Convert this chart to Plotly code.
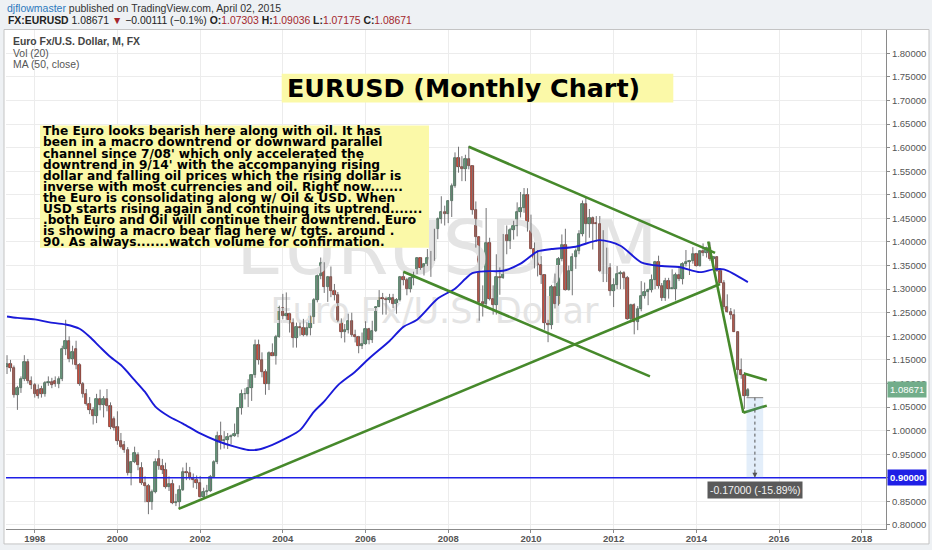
import pandas as pd
import plotly.graph_objects as go

# ---------------- data (monthly EURUSD, May 1997 - Apr 2015) ----------------
first_month = "1997-05-01"

open_ = [
    1.1350, 1.1420, 1.1330, 1.0760, 1.0900, 1.1100, 1.1450, 1.1050,
    1.0960, 1.0860, 1.0880, 1.0780, 1.1000, 1.1040, 1.1050, 1.0980, 1.1100, 1.1730, 1.1900, 1.1520,
    1.1740, 1.1390, 1.0990, 1.0770, 1.0570, 1.0430, 1.0320, 1.0680, 1.0550, 1.0680, 1.0520, 1.0240,
    1.0070, 0.9780, 0.9700, 0.9580, 0.9110, 0.9330, 0.9480, 0.9200, 0.8880, 0.8830, 0.8480, 0.8690,
    0.9400, 0.9250, 0.9170, 0.8800, 0.8870, 0.8460, 0.8480, 0.8750, 0.9120, 0.9110, 0.9000, 0.8950,
    0.8900, 0.8600, 0.8700, 0.8720, 0.9020, 0.9330, 0.9880, 0.9770, 0.9810, 0.9860, 0.9880, 0.9930,
    1.0480, 1.0770, 1.0780, 1.0910, 1.1170, 1.1810, 1.1500, 1.1250, 1.0980, 1.1650, 1.1590, 1.1990,
    1.2590, 1.2440, 1.2480, 1.2290, 1.1960, 1.2200, 1.2170, 1.2030, 1.2180, 1.2420, 1.2760, 1.3270,
    1.3560, 1.3040, 1.3250, 1.2960, 1.2870, 1.2300, 1.2100, 1.2130, 1.2330, 1.2020, 1.1990, 1.1790,
    1.1840, 1.2160, 1.1920, 1.2120, 1.2620, 1.2810, 1.2790, 1.2760, 1.2810, 1.2680, 1.2760, 1.3250,
    1.3200, 1.3010, 1.3230, 1.3360, 1.3650, 1.3450, 1.3540, 1.3670, 1.3640, 1.4270, 1.4490, 1.4630,
    1.4590, 1.4860, 1.5180, 1.5790, 1.5600, 1.5550, 1.5760, 1.5610, 1.4670, 1.4100, 1.2730, 1.2690,
    1.3970, 1.2800, 1.2670, 1.3250, 1.3230, 1.4150, 1.4030, 1.4250, 1.4330, 1.4640, 1.4720, 1.5000,
    1.4330, 1.3860, 1.3630, 1.3510, 1.3290, 1.2290, 1.2230, 1.3050, 1.2690, 1.3630, 1.3930, 1.2980,
    1.3380, 1.3690, 1.3800, 1.4160, 1.4810, 1.4390, 1.4500, 1.4390, 1.4380, 1.3390, 1.3870, 1.3450,
    1.2960, 1.3080, 1.3330, 1.3340, 1.3240, 1.2360, 1.2660, 1.2300, 1.2580, 1.2860, 1.2950, 1.2990,
    1.3190, 1.3580, 1.3060, 1.2820, 1.3170, 1.3000, 1.3010, 1.3300, 1.3220, 1.3530, 1.3580, 1.3590,
    1.3750, 1.3490, 1.3810, 1.3770, 1.3870, 1.3630, 1.3690, 1.3390, 1.3130, 1.2630, 1.2520, 1.2450,
    1.2100, 1.1290, 1.1190, 1.07303,
]
high = [
    1.1600, 1.1500, 1.1380, 1.0950, 1.1150, 1.1600, 1.1520, 1.1150,
    1.1010, 1.0980, 1.0950, 1.1050, 1.1150, 1.1120, 1.1150, 1.1150, 1.1800, 1.2350, 1.2000, 1.1800,
    1.1906, 1.1430, 1.1030, 1.0880, 1.0710, 1.0500, 1.0780, 1.0870, 1.0730, 1.0880, 1.0600, 1.0300,
    1.0410, 0.9950, 0.9780, 0.9650, 0.9350, 0.9660, 0.9540, 0.9330, 0.9030, 0.8870, 0.8750, 0.9410,
    0.9590, 0.9400, 0.9320, 0.9030, 0.8960, 0.8660, 0.8840, 0.9220, 0.9320, 0.9230, 0.9090, 0.9050,
    0.9040, 0.8790, 0.8850, 0.9060, 0.9370, 0.9980, 1.0190, 0.9990, 0.9950, 0.9920, 1.0150, 1.0500,
    1.0870, 1.0900, 1.1090, 1.1190, 1.1930, 1.1930, 1.1660, 1.1300, 1.1680, 1.1850, 1.2030, 1.2650,
    1.2900, 1.2930, 1.2500, 1.2380, 1.2290, 1.2290, 1.2370, 1.2300, 1.2440, 1.2810, 1.3310, 1.3670,
    1.3570, 1.3280, 1.3480, 1.3110, 1.2940, 1.2380, 1.2260, 1.2480, 1.2500, 1.2140, 1.2010, 1.2080,
    1.2320, 1.2180, 1.2330, 1.2640, 1.2980, 1.2920, 1.2840, 1.2900, 1.2900, 1.2810, 1.3280, 1.3370,
    1.3240, 1.3260, 1.3370, 1.3680, 1.3660, 1.3540, 1.3850, 1.3810, 1.4280, 1.4520, 1.4970, 1.4770,
    1.4890, 1.5240, 1.5900, 1.6020, 1.5820, 1.5850, 1.6038, 1.5630, 1.4860, 1.4100, 1.3080, 1.4720,
    1.4090, 1.3080, 1.3740, 1.3460, 1.4170, 1.4350, 1.4300, 1.4450, 1.4840, 1.5060, 1.5144, 1.5140,
    1.4580, 1.3990, 1.3830, 1.3700, 1.3320, 1.2350, 1.3090, 1.3330, 1.3680, 1.4160, 1.4280, 1.3500,
    1.3760, 1.3860, 1.4250, 1.4880, 1.4940, 1.4700, 1.4540, 1.4550, 1.4550, 1.4250, 1.3880, 1.3550,
    1.3230, 1.3490, 1.3390, 1.3380, 1.3280, 1.2690, 1.2700, 1.2640, 1.3170, 1.3140, 1.3010, 1.3310,
    1.3600, 1.3710, 1.3130, 1.3240, 1.3240, 1.3420, 1.3350, 1.3450, 1.3570, 1.3830, 1.3620, 1.3890,
    1.3770, 1.3820, 1.3970, 1.3900, 1.3995, 1.3700, 1.3700, 1.3440, 1.3190, 1.2890, 1.2600, 1.2570,
    1.2100, 1.1530, 1.1240, 1.09036,
]
low = [
    1.1200, 1.1250, 1.0700, 1.0440, 1.0800, 1.1050, 1.1000, 1.0880,
    1.0700, 1.0680, 1.0700, 1.0720, 1.0950, 1.0900, 1.0930, 1.0900, 1.1050, 1.1600, 1.1450, 1.1400,
    1.1300, 1.0950, 1.0700, 1.0530, 1.0350, 1.0130, 1.0160, 1.0430, 1.0280, 1.0410, 1.0030, 1.0000,
    0.9700, 0.9620, 0.9530, 0.9050, 0.8840, 0.9310, 0.9160, 0.8850, 0.8480, 0.8228, 0.8320, 0.8670,
    0.9170, 0.9080, 0.8770, 0.8720, 0.8440, 0.8400, 0.8344, 0.8720, 0.8950, 0.8950, 0.8790, 0.8760,
    0.8580, 0.8560, 0.8620, 0.8700, 0.9000, 0.9290, 0.9600, 0.9620, 0.9610, 0.9710, 0.9870, 0.9860,
    1.0340, 1.0660, 1.0500, 1.0630, 1.1120, 1.1400, 1.1130, 1.0760, 1.0860, 1.1580, 1.1400, 1.1970,
    1.2360, 1.2350, 1.2080, 1.1760, 1.1760, 1.2010, 1.2000, 1.2000, 1.2020, 1.2260, 1.2720, 1.3210,
    1.2920, 1.2730, 1.2830, 1.2760, 1.2300, 1.1960, 1.1870, 1.2060, 1.1990, 1.1870, 1.1640, 1.1730,
    1.1820, 1.1830, 1.1860, 1.2090, 1.2620, 1.2460, 1.2460, 1.2710, 1.2600, 1.2480, 1.2740, 1.3080,
    1.2870, 1.2930, 1.3080, 1.3320, 1.3410, 1.3290, 1.3490, 1.3260, 1.3600, 1.4060, 1.4390, 1.4350,
    1.4400, 1.4530, 1.5150, 1.5470, 1.5290, 1.5290, 1.5540, 1.4580, 1.3880, 1.2330, 1.2420, 1.2630,
    1.2760, 1.2460, 1.2460, 1.2880, 1.3220, 1.3740, 1.3850, 1.4050, 1.4120, 1.4520, 1.4620, 1.4220,
    1.3860, 1.3440, 1.3270, 1.3110, 1.2140, 1.1875, 1.2150, 1.2590, 1.2650, 1.3590, 1.2970, 1.2970,
    1.2870, 1.3430, 1.3740, 1.4120, 1.3970, 1.4090, 1.3840, 1.4000, 1.3360, 1.3150, 1.3150, 1.2860,
    1.2620, 1.3000, 1.3000, 1.3000, 1.2350, 1.2290, 1.2042, 1.2130, 1.2530, 1.2800, 1.2660, 1.2930,
    1.3000, 1.3010, 1.2750, 1.2750, 1.2800, 1.3000, 1.2760, 1.3170, 1.3100, 1.3480, 1.3300, 1.3540,
    1.3480, 1.3480, 1.3700, 1.3670, 1.3600, 1.3500, 1.3370, 1.3130, 1.2570, 1.2500, 1.2360, 1.2100,
    1.1100, 1.1100, 1.0460, 1.07175,
]
close = [
    1.1420, 1.1330, 1.0760, 1.0900, 1.1100, 1.1450, 1.1050, 1.0960,
    1.0780, 1.0740, 1.0780, 1.1000, 1.1040, 1.0970, 1.0980, 1.1100, 1.1730, 1.1900, 1.1520, 1.1670,
    1.1390, 1.0990, 1.0770, 1.0570, 1.0430, 1.0320, 1.0680, 1.0550, 1.0680, 1.0520, 1.0080, 1.0050,
    0.9780, 0.9660, 0.9580, 0.9110, 0.9330, 0.9530, 0.9270, 0.8880, 0.8830, 0.8480, 0.8690, 0.9330,
    0.9250, 0.9170, 0.8800, 0.8870, 0.8460, 0.8480, 0.8750, 0.9120, 0.9110, 0.9000, 0.8950, 0.8900,
    0.8600, 0.8700, 0.8720, 0.9020, 0.9330, 0.9880, 0.9770, 0.9810, 0.9860, 0.9880, 0.9930, 1.0480,
    1.0770, 1.0780, 1.0910, 1.1170, 1.1810, 1.1500, 1.1250, 1.0980, 1.1650, 1.1590, 1.1990, 1.2590,
    1.2440, 1.2480, 1.2290, 1.1960, 1.2200, 1.2170, 1.2030, 1.2180, 1.2420, 1.2760, 1.3270, 1.3560,
    1.3040, 1.3250, 1.2960, 1.2870, 1.2300, 1.2100, 1.2130, 1.2330, 1.2020, 1.1990, 1.1790, 1.1840,
    1.2160, 1.1920, 1.2120, 1.2620, 1.2810, 1.2790, 1.2760, 1.2810, 1.2680, 1.2760, 1.3250, 1.3200,
    1.3010, 1.3230, 1.3360, 1.3650, 1.3450, 1.3540, 1.3670, 1.3640, 1.4270, 1.4490, 1.4630, 1.4590,
    1.4860, 1.5180, 1.5790, 1.5600, 1.5550, 1.5760, 1.5610, 1.4670, 1.4100, 1.2730, 1.2690, 1.3970,
    1.2800, 1.2670, 1.3250, 1.3230, 1.4150, 1.4030, 1.4250, 1.4330, 1.4640, 1.4720, 1.5000, 1.4330,
    1.3860, 1.3630, 1.3510, 1.3290, 1.2290, 1.2230, 1.3050, 1.2690, 1.3630, 1.3930, 1.2980, 1.3380,
    1.3690, 1.3800, 1.4160, 1.4810, 1.4390, 1.4500, 1.4390, 1.4380, 1.3390, 1.3870, 1.3450, 1.2960,
    1.3080, 1.3330, 1.3340, 1.3240, 1.2360, 1.2660, 1.2300, 1.2580, 1.2860, 1.2950, 1.2990, 1.3190,
    1.3580, 1.3060, 1.2820, 1.3170, 1.3000, 1.3010, 1.3300, 1.3220, 1.3530, 1.3580, 1.3590, 1.3750,
    1.3490, 1.3810, 1.3770, 1.3870, 1.3630, 1.3690, 1.3390, 1.3130, 1.2630, 1.2520, 1.2450, 1.2100,
    1.1290, 1.1190, 1.0730, 1.08671,
]

# MA(50, close)
ma_dates = [
    "1997-05", "1997-08", "1998-01", "1998-05", "1998-10", "1999-02", "1999-05", "1999-08",
    "1999-11", "2000-02", "2000-06", "2000-09", "2000-12", "2001-04", "2001-08", "2002-01",
    "2002-06", "2002-11", "2003-03", "2003-06", "2003-10", "2004-02", "2004-06", "2004-10",
    "2005-01", "2005-05", "2005-10", "2006-02", "2006-08", "2006-12", "2007-04", "2007-10",
    "2008-03", "2008-06", "2008-08", "2008-12", "2009-05", "2009-10", "2010-03", "2010-07",
    "2011-02", "2011-09", "2012-03", "2012-09", "2013-03", "2013-08", "2014-02", "2014-06",
    "2014-09", "2014-12", "2015-04",
]
ma_values = [
    1.242, 1.239, 1.236, 1.230, 1.225, 1.216, 1.199, 1.177,
    1.156, 1.139, 1.107, 1.082, 1.051, 1.030, 1.015, 0.994,
    0.978, 0.966, 0.959, 0.960, 0.970, 0.984, 1.001, 1.040,
    1.062, 1.096, 1.125, 1.153, 1.190, 1.220, 1.235, 1.280,
    1.301, 1.322, 1.334, 1.338, 1.339, 1.354, 1.380, 1.385,
    1.390, 1.404, 1.392, 1.357, 1.349, 1.347, 1.336, 1.342,
    1.342, 1.332, 1.315,
]

# hand-drawn trend lines (start date, start price, end date, end price)
trend_start_dates = ["2008-07-01", "2006-12-01", "2001-06-24", "2014-04-16", "2015-02-26", "2015-02-20"]
trend_start_prices = [1.602, 1.337, 0.834, 1.401, 1.121, 1.038]
trend_end_dates = ["2014-06-15", "2012-11-17", "2014-07-29", "2015-02-20", "2015-09-15", "2015-09-15"]
trend_end_prices = [1.377, 1.115, 1.311, 1.038, 1.107, 1.053]

target_price = 0.90
measure_from = 1.07
measure_dates = ["2015-03-20", "2015-06-02", "2015-08-14"]
measure_label = "-0.17000 (-15.89%)"
last_price = 1.08671

text_lines = [
    "The Euro looks bearish here along with oil. It has",
    "been in a macro downtrend or downward parallel",
    "channel since 7/08' which only accelerated the",
    "downtrend in 9/14' with the accompanying rising",
    "dollar and falling oil prices which the rising dollar is",
    "inverse with most currencies and oil. Right now.......",
    "the Euro is consolidating along w/ Oil &amp; USD. When",
    "USD starts rising again and continuing its uptrend.......",
    ".both Euro and Oil will continue their downtrend. Euro",
    "is showing a macro bear flag here w/ tgts. around .",
    "90. As always.......watch volume for confirmation.",
]

# ---------------- build ----------------
dates = pd.date_range(first_month, periods=len(close), freq="MS")

UP_FILL, UP_LINE = "#6ba583", "#225437"
DN_FILL, DN_LINE = "#d75442", "#5b1a13"
WICK = "#737375"

W, H = 932, 550
L_M, R_M, T_M, B_M = 6, 46, 30, 19
PW, PH = W - L_M - R_M, H - T_M - B_M


def px(x):
    return (x - L_M) / PW


def py(y):
    return (H - B_M - y) / PH


fig = go.Figure()

# watermark (drawn first, behind everything)
fig.add_trace(go.Scatter(
    x=["2007-12-20"], y=[1.372], mode="text", text=["EURUSD, M"],
    textfont=dict(family="DejaVu Sans", size=74, color="#e4e4e4"),
    hoverinfo="skip", showlegend=False))
fig.add_trace(go.Scatter(
    x=["2007-09-01"], y=[1.246], mode="text", text=["Euro Fx/U.S. Dollar"],
    textfont=dict(family="DejaVu Sans", size=35, color="#e4e4e4"),
    hoverinfo="skip", showlegend=False))

# wicks
wx, wy = [], []
for d, lo, hi in zip(dates, low, high):
    wx += [d, d, None]
    wy += [lo, hi, None]
fig.add_trace(go.Scatter(x=wx, y=wy, mode="lines", line=dict(color=WICK, width=1),
                         hoverinfo="skip", showlegend=False))

# bodies
base = [min(o, c) for o, c in zip(open_, close)]
span = [max(abs(c - o), 0.0015) for o, c in zip(open_, close)]
fills = [UP_FILL if c >= o else DN_FILL for o, c in zip(open_, close)]
edges = [UP_LINE if c >= o else DN_LINE for o, c in zip(open_, close)]
fig.add_trace(go.Bar(
    x=dates, y=span, base=base, width=21 * 24 * 3600 * 1000,
    marker=dict(color=fills, line=dict(color=edges, width=0.7)),
    hoverinfo="skip", showlegend=False))

# moving average
fig.add_trace(go.Scatter(
    x=pd.to_datetime(ma_dates), y=ma_values, mode="lines",
    line=dict(color="#1a1ad8", width=1.9, shape="spline", smoothing=0.8),
    hoverinfo="skip", showlegend=False))

# trend lines
for sd, sp, ed, ep in zip(trend_start_dates, trend_start_prices, trend_end_dates, trend_end_prices):
    fig.add_trace(go.Scatter(
        x=[sd, ed], y=[sp, ep], mode="lines",
        line=dict(color="#46892b", width=2.6),
        hoverinfo="skip", showlegend=False))

shapes = []
# chart frame
shapes.append(dict(type="rect", xref="paper", yref="paper", x0=px(4), x1=px(929),
                   y0=py(546), y1=py(29.5), line=dict(color="#c4c4c4", width=1),
                   fillcolor="white", layer="below"))
# target horizontal line
shapes.append(dict(type="line", xref="paper", yref="y", x0=0, x1=1, y0=target_price, y1=target_price,
                   line=dict(color="#1f1fe6", width=1.5)))
# measure tool
shapes.append(dict(type="rect", xref="x", yref="y", x0=measure_dates[0], x1=measure_dates[2],
                   y0=target_price, y1=measure_from, fillcolor="rgba(100,160,230,0.18)",
                   line=dict(width=0)))
shapes.append(dict(type="line", xref="x", yref="y", x0=measure_dates[0], x1=measure_dates[2],
                   y0=measure_from, y1=measure_from, line=dict(color="#9a9a9a", width=1.2)))
shapes.append(dict(type="line", xref="x", yref="y", x0=measure_dates[1], x1=measure_dates[1],
                   y0=measure_from, y1=target_price + 0.004, line=dict(color="#555555", width=1, dash="dot")))
# title box and text box
shapes.append(dict(type="rect", xref="paper", yref="paper", x0=px(281.7), x1=px(673.3),
                   y0=py(102.7), y1=py(74), fillcolor="#fbf9a8", line=dict(width=0)))
shapes.append(dict(type="rect", xref="paper", yref="paper", x0=px(40), x1=px(429),
                   y0=py(248.5), y1=py(126), fillcolor="#fbf9a8", line=dict(width=0)))

ann = []
# header
ann.append(dict(xref="paper", yref="paper", x=px(5), y=py(7.5), xanchor="left", yanchor="middle",
                showarrow=False, align="left",
                text="<span style='color:#2d79bd'>djflowmaster</span> published on TradingView.com, April 02, 2015",
                font=dict(family="Liberation Sans", size=10.5, color="#333333")))
red = "#a3262c"
ann.append(dict(xref="paper", yref="paper", x=px(5.5), y=py(20.5), xanchor="left", yanchor="middle",
                showarrow=False, align="left",
                text=("<b>FX:EURUSD</b> 1.08671 <span style='color:%s'>▼</span> −0.00111 (−0.1%%) "
                      "<b>O:</b><span style='color:%s'>1.07303</span> <b>H:</b><span style='color:%s'>1.09036</span> "
                      "<b>L:</b><span style='color:%s'>1.07175</span> <b>C:</b><span style='color:%s'>1.08671</span>")
                % (red, red, red, red, red),
                font=dict(family="Liberation Sans", size=10.4, color="#222222")))
# legend
ann.append(dict(xref="paper", yref="paper", x=px(11), y=py(41.7), xanchor="left", yanchor="middle",
                showarrow=False, text="<b>Euro Fx/U.S. Dollar, M, FX</b>",
                font=dict(family="Liberation Sans", size=10.4, color="#444444")))
ann.append(dict(xref="paper", yref="paper", x=px(11), y=py(53.5), xanchor="left", yanchor="middle",
                showarrow=False, text="Vol (20)",
                font=dict(family="Liberation Sans", size=10.4, color="#555555")))
ann.append(dict(xref="paper", yref="paper", x=px(11), y=py(65), xanchor="left", yanchor="middle",
                showarrow=False, text="MA (50, close)",
                font=dict(family="Liberation Sans", size=10.4, color="#555555")))
# title
ann.append(dict(xref="paper", yref="paper", x=px(285), y=py(88.5), xanchor="left", yanchor="middle",
                showarrow=False, text="<b>EURUSD (Monthly Chart)</b>",
                font=dict(family="DejaVu Sans", size=25.4, color="#000000")))
# comment text
for i, line in enumerate(text_lines):
    ann.append(dict(xref="paper", yref="paper", x=px(40.5), y=py(131.8 + i * 11.1),
                    xanchor="left", yanchor="middle", showarrow=False, text="<b>%s</b>" % line,
                    font=dict(family="DejaVu Sans", size=12.2, color="#000000")))
# measure label + arrow head
ann.append(dict(xref="x", yref="y", x=measure_dates[1], y=target_price, ax=0, ay=-7,
                axref="pixel", ayref="pixel", showarrow=True, arrowhead=2, arrowsize=1,
                arrowwidth=1, arrowcolor="#555555", text=""))
ann.append(dict(xref="x", yref="y", x=measure_dates[1], y=0.874, xanchor="center", yanchor="middle",
                showarrow=False, text=measure_label, bgcolor="#5a5a5a", borderpad=2,
                font=dict(family="Liberation Sans", size=10.5, color="#f2f2f2")))
# price labels on the axis
ann.append(dict(xref="paper", yref="y", x=px(887), y=last_price, xanchor="left", yanchor="middle",
                showarrow=False, text="%.5f" % last_price, bgcolor="#72ad8a", borderpad=2,
                font=dict(family="Liberation Sans", size=9.5, color="#ffffff")))
ann.append(dict(xref="paper", yref="y", x=px(887), y=target_price, xanchor="left", yanchor="middle",
                showarrow=False, text="<b>%.5f</b>" % target_price, bgcolor="#1f1fe6", borderpad=2,
                font=dict(family="Liberation Sans", size=9.5, color="#ffffff")))

fig.update_layout(
    width=W, height=H,
    margin=dict(l=L_M, r=R_M, t=T_M, b=B_M),
    paper_bgcolor="#eef1f4", plot_bgcolor="white",
    showlegend=False, bargap=0,
    shapes=shapes, annotations=ann,
    xaxis=dict(type="date", range=["1997-04-22", "2018-08-03"], tickformat="%Y",
               dtick="M24", tick0="1998-01-01", showgrid=True, gridcolor="#ececec",
               zeroline=False, showline=True, linecolor="#8a8a8a", linewidth=1,
               ticks="outside", ticklen=3, tickcolor="#8a8a8a", ticklabelstandoff=-2,
               tickfont=dict(family="Liberation Sans", size=9.5, color="#555555", weight="bold"),
               fixedrange=True),
    yaxis=dict(side="right", range=[0.7914, 1.8495], dtick=0.05, tick0=0.8,
               tickformat=".5f", showgrid=True, gridcolor="#ececec", zeroline=False,
               showline=True, linecolor="#8a8a8a", linewidth=1,
               ticks="outside", ticklen=3, tickcolor="#8a8a8a",
               tickfont=dict(family="Liberation Sans", size=9.5, color="#555555"),
               fixedrange=True),
)

fig.write_html("out.html", config={"displayModeBar": False},
               post_script="document.body.style.margin='0px';document.body.style.overflow='hidden';")
